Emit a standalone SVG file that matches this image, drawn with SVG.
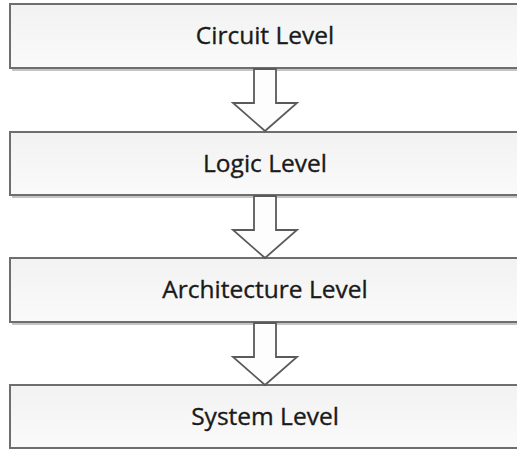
<svg xmlns="http://www.w3.org/2000/svg" width="517" height="450" viewBox="0 0 517 450">
<style>
.box{fill:url(#g);stroke:#6e6e6e;stroke-width:2}
.sh{fill:none;stroke:#b0b0b0;stroke-width:1.5}
.lbl{font-family:"Open Sans","Liberation Sans",sans-serif;font-size:24.5px;fill:#1a1a1a;stroke:#1a1a1a;stroke-width:0.35;text-anchor:middle}
.arr{fill:#fdfdfd;stroke:#5a5a5a;stroke-width:1.8;stroke-linejoin:miter}
</style>
<defs>
<linearGradient id="g" x1="0" y1="0" x2="0" y2="1">
<stop offset="0" stop-color="#f2f2f2"/>
<stop offset="1" stop-color="#fafafa"/>
</linearGradient>
</defs>
<g id="circuit"><line class="sh" x1="12" y1="70" x2="517" y2="70"/><rect class="box" x="10" y="4" width="520" height="64"/><text class="lbl" x="265" y="44">Circuit Level</text></g>
<g id="logic"><line class="sh" x1="12" y1="197" x2="517" y2="197"/><rect class="box" x="10" y="132" width="520" height="63"/><text class="lbl" x="265" y="172">Logic Level</text></g>
<g id="architecture"><line class="sh" x1="12" y1="324" x2="517" y2="324"/><rect class="box" x="10" y="258" width="520" height="64"/><text class="lbl" x="265" y="298">Architecture Level</text></g>
<g id="system"><rect class="box" x="10" y="385" width="520" height="63"/><text class="lbl" x="265" y="425">System Level</text></g>
<g id="connectors">
<polygon class="arr" points="254,69 276,69 276,103 297,103 265,131 233,103 254,103"/>
<polygon class="arr" points="254,196 276,196 276,230 297,230 265,258 233,230 254,230"/>
<polygon class="arr" points="254,323 276,323 276,357 297,357 265,385 233,357 254,357"/>
</g>
</svg>
